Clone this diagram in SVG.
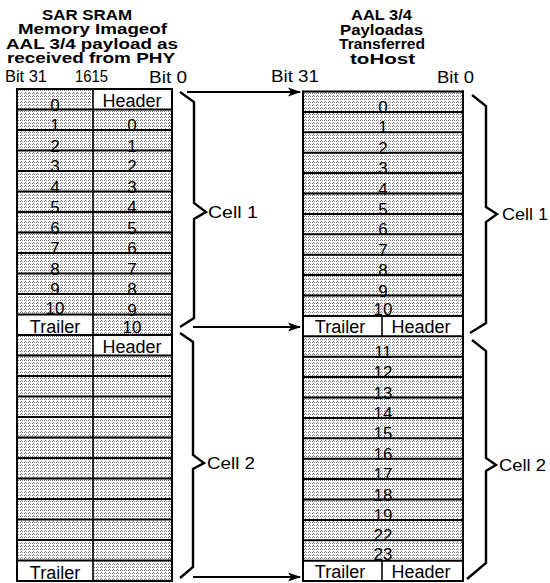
<svg xmlns="http://www.w3.org/2000/svg" width="550" height="583" viewBox="0 0 550 583">
<defs>
<pattern id="dots" patternUnits="userSpaceOnUse" width="4" height="3">
<rect width="4" height="3" fill="#ffffff"/>
<rect x="0" y="0" width="1" height="1" fill="#707070"/>
<rect x="2" y="0" width="1" height="1" fill="#909090"/>
<rect x="1" y="2" width="1" height="1" fill="#808080"/>
</pattern>
<marker id="ah" markerUnits="userSpaceOnUse" markerWidth="14" markerHeight="10" refX="12" refY="5" orient="auto">
<path d="M0,0.5 L13,5 L0,9.5 L3,5 z" fill="#000"/>
</marker>
<style>
.t{font-family:"Liberation Sans",Arial,sans-serif;fill:#000}
.ttl{font-size:14px;font-weight:bold}
.bit{font-size:16px}
.num{font-size:17px;text-anchor:middle}
.lab{font-size:18px;text-anchor:middle}
.cell{font-size:16px}
.rl{stroke:#000;stroke-width:2}
.vl{stroke:#000;stroke-width:1.6}
.brace{fill:none;stroke:#000;stroke-width:2.4;stroke-linejoin:miter}
.arr{stroke:#000;stroke-width:2;fill:none}
</style>
</defs>

<g id="title-left">
<text class="t ttl" x="42" y="19.5" textLength="90" lengthAdjust="spacingAndGlyphs">SAR SRAM</text>
<text class="t ttl" x="18" y="34.2" textLength="149" lengthAdjust="spacingAndGlyphs">Memory Imageof</text>
<text class="t ttl" x="6" y="48.8" textLength="172" lengthAdjust="spacingAndGlyphs">AAL 3/4 payload as</text>
<text class="t ttl" x="7" y="63.4" textLength="168" lengthAdjust="spacingAndGlyphs">received from PHY</text>
<text class="t bit" x="5" y="82" textLength="42" lengthAdjust="spacingAndGlyphs">Bit 31</text>
<text class="t bit" x="75" y="82" textLength="33" lengthAdjust="spacingAndGlyphs">1615</text>
<text class="t bit" x="149" y="83" textLength="38" lengthAdjust="spacingAndGlyphs">Bit 0</text>
</g>

<g id="title-right">
<text class="t ttl" x="351" y="20" textLength="61" lengthAdjust="spacingAndGlyphs">AAL 3/4</text>
<text class="t ttl" x="340" y="34.5" textLength="83" lengthAdjust="spacingAndGlyphs">Payloadas</text>
<text class="t ttl" x="339" y="49" textLength="86" lengthAdjust="spacingAndGlyphs">Transferred</text>
<text class="t ttl" x="350" y="63.5" textLength="65" lengthAdjust="spacingAndGlyphs">toHost</text>
<text class="t bit" x="271" y="82" textLength="48" lengthAdjust="spacingAndGlyphs">Bit 31</text>
<text class="t bit" x="437" y="83" textLength="37" lengthAdjust="spacingAndGlyphs">Bit 0</text>
</g>

<g id="left-table">
<rect x="17" y="89" width="155" height="492" fill="url(#dots)"/>
<rect x="93" y="89" width="79" height="20.5" fill="#fff"/>
<rect x="17" y="314.5" width="76" height="20.5" fill="#fff"/>
<rect x="93" y="335" width="79" height="20.5" fill="#fff"/>
<rect x="17" y="560.5" width="76" height="20.5" fill="#fff"/>
<g class="t num">
<text x="55" y="110.5">0</text>
<text x="55" y="131">1</text>
<text x="55" y="151.5">2</text>
<text x="55" y="172">3</text>
<text x="55" y="192.5">4</text>
<text x="55" y="213">5</text>
<text x="55" y="233.5">6</text>
<text x="55" y="254">7</text>
<text x="55" y="274.5">8</text>
<text x="55" y="295">9</text>
<text x="55" y="313.5">10</text>
<text x="132" y="131">0</text>
<text x="132" y="151.5">1</text>
<text x="132" y="172">2</text>
<text x="132" y="192.5">3</text>
<text x="132" y="213">4</text>
<text x="132" y="233.5">5</text>
<text x="132" y="254">6</text>
<text x="132" y="274.5">7</text>
<text x="132" y="295">8</text>
<text x="132" y="315.5">9</text>
<text x="132" y="333">10</text>
</g>
<g class="t lab">
<text x="132" y="107">Header</text>
<text x="55" y="333">Trailer</text>
<text x="132" y="353">Header</text>
<text x="55" y="579">Trailer</text>
</g>
<g class="rl">
<line x1="16" y1="89" x2="173" y2="89"/>
<line x1="16" y1="109.5" x2="173" y2="109.5"/>
<line x1="16" y1="130" x2="173" y2="130"/>
<line x1="16" y1="150.5" x2="173" y2="150.5"/>
<line x1="16" y1="171" x2="173" y2="171"/>
<line x1="16" y1="191.5" x2="173" y2="191.5"/>
<line x1="16" y1="212" x2="173" y2="212"/>
<line x1="16" y1="232.5" x2="173" y2="232.5"/>
<line x1="16" y1="253" x2="173" y2="253"/>
<line x1="16" y1="273.5" x2="173" y2="273.5"/>
<line x1="16" y1="294" x2="173" y2="294"/>
<line x1="16" y1="314.5" x2="173" y2="314.5"/>
<line x1="16" y1="335" x2="173" y2="335"/>
<line x1="16" y1="355.5" x2="173" y2="355.5"/>
<line x1="16" y1="376" x2="173" y2="376"/>
<line x1="16" y1="396.5" x2="173" y2="396.5"/>
<line x1="16" y1="417" x2="173" y2="417"/>
<line x1="16" y1="437.5" x2="173" y2="437.5"/>
<line x1="16" y1="458" x2="173" y2="458"/>
<line x1="16" y1="478.5" x2="173" y2="478.5"/>
<line x1="16" y1="499" x2="173" y2="499"/>
<line x1="16" y1="519.5" x2="173" y2="519.5"/>
<line x1="16" y1="540" x2="173" y2="540"/>
<line x1="16" y1="560.5" x2="173" y2="560.5"/>
<line x1="16" y1="581" x2="173" y2="581"/>
<line x1="17" y1="88" x2="17" y2="582"/>
<line x1="172" y1="88" x2="172" y2="582"/>
</g>
<line class="vl" x1="93" y1="89" x2="93" y2="581"/>
</g>

<g id="right-table">
<rect x="303" y="91.5" width="160" height="489.6" fill="url(#dots)"/>
<rect x="303" y="315.9" width="160" height="20.4" fill="#fff"/>
<rect x="303" y="560.7" width="160" height="20.4" fill="#fff"/>
<g class="t num">
<text x="383" y="113">0</text>
<text x="383" y="133.4">1</text>
<text x="383" y="153.8">2</text>
<text x="383" y="174.2">3</text>
<text x="383" y="194.6">4</text>
<text x="383" y="215">5</text>
<text x="383" y="235.4">6</text>
<text x="383" y="255.8">7</text>
<text x="383" y="276.2">8</text>
<text x="383" y="296.6">9</text>
<text x="383" y="315">10</text>
<text x="383" y="357.8">11</text>
<text x="383" y="378.2">12</text>
<text x="383" y="398.6">13</text>
<text x="383" y="419">14</text>
<text x="383" y="439.4">15</text>
<text x="383" y="459.8">16</text>
<text x="383" y="480.2">17</text>
<text x="383" y="500.6">18</text>
<text x="383" y="521">19</text>
<text x="383" y="541.4">22</text>
<text x="383" y="560">23</text>
</g>
<g class="t lab">
<text x="340" y="333">Trailer</text>
<text x="421" y="333">Header</text>
<text x="340" y="578">Trailer</text>
<text x="421" y="578">Header</text>
</g>
<g class="rl">
<line x1="302" y1="91.5" x2="464" y2="91.5"/>
<line x1="302" y1="111.9" x2="464" y2="111.9"/>
<line x1="302" y1="132.3" x2="464" y2="132.3"/>
<line x1="302" y1="152.7" x2="464" y2="152.7"/>
<line x1="302" y1="173.1" x2="464" y2="173.1"/>
<line x1="302" y1="193.5" x2="464" y2="193.5"/>
<line x1="302" y1="213.9" x2="464" y2="213.9"/>
<line x1="302" y1="234.3" x2="464" y2="234.3"/>
<line x1="302" y1="254.7" x2="464" y2="254.7"/>
<line x1="302" y1="275.1" x2="464" y2="275.1"/>
<line x1="302" y1="295.5" x2="464" y2="295.5"/>
<line x1="302" y1="315.9" x2="464" y2="315.9"/>
<line x1="302" y1="336.3" x2="464" y2="336.3"/>
<line x1="302" y1="356.7" x2="464" y2="356.7"/>
<line x1="302" y1="377.1" x2="464" y2="377.1"/>
<line x1="302" y1="397.5" x2="464" y2="397.5"/>
<line x1="302" y1="417.9" x2="464" y2="417.9"/>
<line x1="302" y1="438.3" x2="464" y2="438.3"/>
<line x1="302" y1="458.7" x2="464" y2="458.7"/>
<line x1="302" y1="479.1" x2="464" y2="479.1"/>
<line x1="302" y1="499.5" x2="464" y2="499.5"/>
<line x1="302" y1="519.9" x2="464" y2="519.9"/>
<line x1="302" y1="540.3" x2="464" y2="540.3"/>
<line x1="302" y1="560.7" x2="464" y2="560.7"/>
<line x1="302" y1="581.1" x2="464" y2="581.1"/>
<line x1="303" y1="90.5" x2="303" y2="582"/>
<line x1="463" y1="90.5" x2="463" y2="582"/>
</g>
<line class="vl" x1="382" y1="315.9" x2="382" y2="336.3"/>
<line class="vl" x1="382" y1="560.7" x2="382" y2="581.1"/>
</g>

<g id="braces">
<path class="brace" d="M180,92 L194,102 L194,203 L206,212 L194,219 L194,318 L180,327"/>
<path class="brace" d="M180,333 L193,342 L193,455 L204,463 L193,469 L193,567 L180,578"/>
<path class="brace" d="M472,95 L486,106 L486,207 L497,214 L486,222 L486,323 L470,333"/>
<path class="brace" d="M472,340 L486,351 L486,458 L496,465 L486,471 L486,563 L467,579"/>
</g>

<g id="cell-labels" class="t cell">
<text x="208" y="218" textLength="50" lengthAdjust="spacingAndGlyphs">Cell 1</text>
<text x="207" y="469" textLength="48" lengthAdjust="spacingAndGlyphs">Cell 2</text>
<text x="502" y="220" textLength="46" lengthAdjust="spacingAndGlyphs">Cell 1</text>
<text x="499" y="471" textLength="47" lengthAdjust="spacingAndGlyphs">Cell 2</text>
</g>

<g id="connectors">
<line class="arr" x1="187" y1="92" x2="300" y2="92" marker-end="url(#ah)"/>
<line class="arr" x1="193" y1="327" x2="300" y2="327" marker-end="url(#ah)"/>
<line class="arr" x1="193" y1="577" x2="300" y2="577" marker-end="url(#ah)"/>
</g>
</svg>
